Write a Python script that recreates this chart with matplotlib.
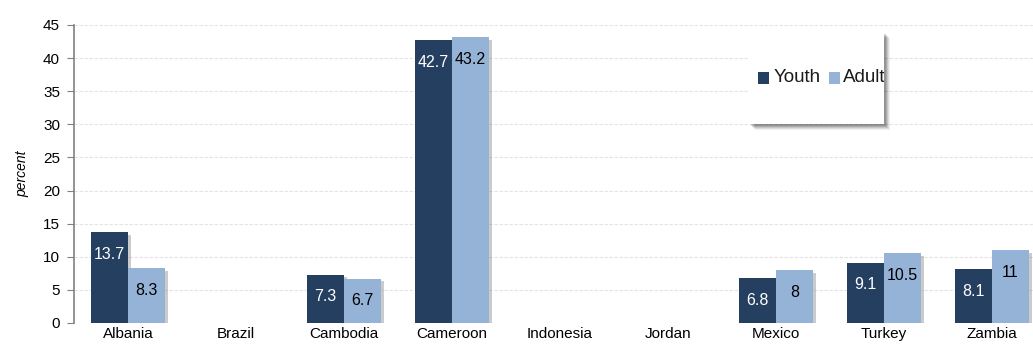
import numpy as np
import matplotlib.pyplot as plt
import matplotlib.patheffects as pe
from matplotlib.patches import Rectangle

plt.rcParams['font.family'] = ['Liberation Sans', 'DejaVu Sans']

# ── Data ──────────────────────────────────────────────────────────────
countries = ["Albania", "Brazil", "Cambodia", "Cameroon", "Indonesia",
             "Jordan", "Mexico", "Turkey", "Zambia"]
youth = [13.7, np.nan, 7.3, 42.7, np.nan, np.nan, 6.8, 9.1, 8.1]
adult = [8.3, np.nan, 6.7, 43.2, np.nan, np.nan, 8.0, 10.5, 11.0]
series_names = ["Youth", "Adult"]

DARK = "#243F60"
LIGHT = "#95B3D7"
W, H = 1033, 345

fig = plt.figure(figsize=(W / 100, H / 100), dpi=100)
ax = fig.add_axes([74 / W, 22 / H, (1046 - 74) / W, 298 / H])

x = np.arange(len(countries))
w = 0.343
shadow = [pe.SimplePatchShadow(offset=(2, -2), shadow_rgbFace="#8c8c8c", alpha=0.45), pe.Normal()]

b1 = ax.bar(x - w / 2, youth, w, color=DARK, zorder=3)
b2 = ax.bar(x + w / 2, adult, w, color=LIGHT, zorder=3)
for b in list(b1) + list(b2):
    b.set_path_effects(shadow)

for bars, vals, col in ((b1, youth, "white"), (b2, adult, "black")):
    for rect, v in zip(bars, vals):
        if np.isnan(v):
            continue
        ax.annotate(f"{v:g}", (rect.get_x() + rect.get_width() / 2, v),
                    xytext=(0, -16), textcoords="offset points",
                    ha="center", va="center", fontsize=11.5, color=col, zorder=4)

ax.set_xlim(-0.5, 8.5)
ax.set_ylim(0, 45)
ax.set_yticks(range(0, 46, 5))
ax.set_xticks(x)
ax.set_xticklabels(countries, fontsize=11)
ax.tick_params(axis="y", labelsize=11, length=5, color="#808080", pad=5)
ax.tick_params(axis="x", length=0, pad=3)
ax.set_ylabel("percent", fontsize=10, style="italic", labelpad=10)

ax.grid(axis="y", color="#e3e3e3", linestyle=(0, (3, 1.5)), linewidth=0.8, zorder=0)
for s in ("top", "right", "bottom"):
    ax.spines[s].set_visible(False)
ax.spines["left"].set_color("#808080")
ax.spines["left"].set_linewidth(1.2)

# ── Legend box drawn by hand (Excel-style, with soft shadow) ─────────
def fx(px):
    return px / W

def fy(py):
    return 1 - py / H

lx0, lx1, ly0, ly1 = 749, 884, 32, 124
for k, a in ((6, 0.06), (5, 0.08), (4, 0.10), (3, 0.12), (2, 0.14)):
    fig.patches.append(Rectangle((fx(lx0 + k), fy(ly1 + k)), fx(lx1 - lx0), (ly1 - ly0) / H,
                                 transform=fig.transFigure, facecolor="black", alpha=a,
                                 edgecolor="none", zorder=5))
box = Rectangle((fx(lx0), fy(ly1)), fx(lx1 - lx0), (ly1 - ly0) / H,
                transform=fig.transFigure, facecolor="white", edgecolor="none", zorder=6)
fig.patches.append(box)
for sx, tx, col, name in ((758, 774, DARK, series_names[0]), (829, 843, LIGHT, series_names[1])):
    fig.patches.append(Rectangle((fx(sx), fy(84)), fx(11), 12 / H, transform=fig.transFigure,
                                 facecolor=col, edgecolor="none", zorder=7))
    t = fig.text(fx(tx), fy(78), name, fontsize=13.5, ha="left", va="center", color="#1a1a1a", zorder=8)
    t.set_clip_path(box)

fig.savefig("out.png", dpi=100)
